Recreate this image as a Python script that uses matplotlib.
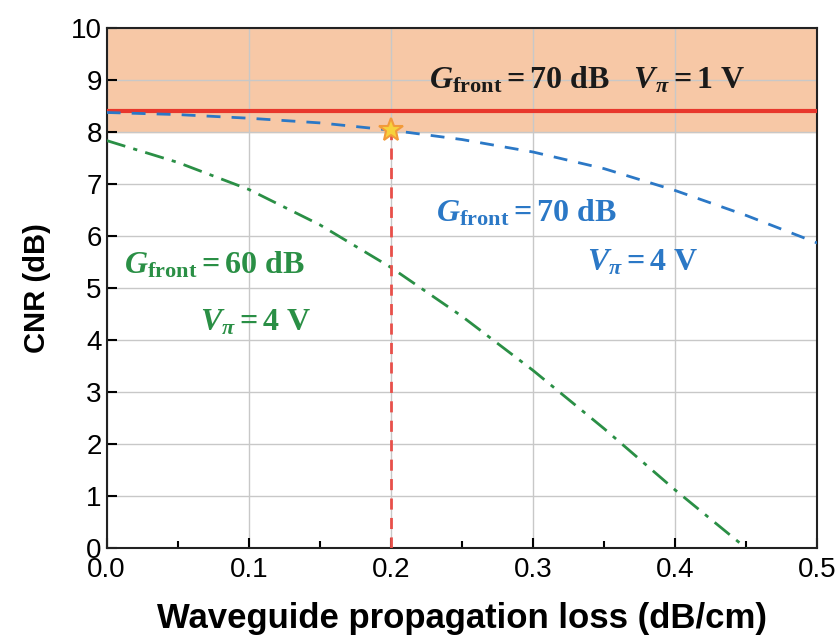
import numpy as np
import matplotlib
matplotlib.use('Agg')
import matplotlib.pyplot as plt

plt.rcParams['font.family'] = ['Liberation Sans', 'DejaVu Sans']
plt.rcParams['mathtext.fontset'] = 'custom'
plt.rcParams['mathtext.rm'] = 'Liberation Serif:bold'
plt.rcParams['mathtext.bf'] = 'Liberation Serif:bold'
plt.rcParams['mathtext.it'] = 'Liberation Serif:bold:italic'

# 数据
loss = [0.0, 0.05, 0.1, 0.15, 0.2, 0.25, 0.3, 0.35, 0.4, 0.45, 0.5]
cnr_70db_4v = [8.38, 8.34, 8.27, 8.18, 8.04, 7.86, 7.62, 7.30, 6.88, 6.40, 5.87]
loss_60 = [0.0, 0.05, 0.1, 0.15, 0.2, 0.25, 0.3, 0.35, 0.4, 0.45]
cnr_60db_4v = [7.84, 7.42, 6.90, 6.22, 5.40, 4.46, 3.42, 2.30, 1.12, 0.0]
cnr_70db_1v = 8.4
band = [8.0, 10.0]
star_pt = (0.2, 8.05)

c_blue = '#2b78c6'
c_green = '#2a8f45'
c_red = '#e8372c'

fig = plt.figure(figsize=(8.4, 6.42), dpi=100)
ax = fig.add_axes([0.127, 0.146, 0.846, 0.81])

# 阴影区和红线
ax.axhspan(band[0], band[1], color='#f7c8a6', zorder=0)
ax.axhline(cnr_70db_1v, color=c_red, lw=3, zorder=3)

# 曲线
ax.plot(loss, cnr_70db_4v, color=c_blue, lw=2, ls=(0, (5, 4)), zorder=3)
ax.plot(loss_60, cnr_60db_4v, color=c_green, lw=2, ls=(0, (7, 3, 1.5, 3)), zorder=3)

# 竖虚线和星
ax.plot([star_pt[0], star_pt[0]], [0, star_pt[1]], color='#e8504a', lw=2,
        ls=(0, (4, 3)), zorder=3)
ax.plot(star_pt[0], star_pt[1], marker='*', ms=18, mfc='#f7d23c', mec='#f29a3a',
        mew=1.5, zorder=5)

# 文字标注
fs = 23
ax.text(0.338, 9.0, r'$G_{\mathrm{front}} = 70\ \mathrm{dB}\quad V_\pi = 1\ \mathrm{V}$',
        color='#1a1a1a', fontsize=fs, ha='center', va='center', zorder=6)
ax.text(0.232, 6.45, r'$G_{\mathrm{front}} = 70\ \mathrm{dB}$',
        color=c_blue, fontsize=fs, ha='left', va='center', zorder=6)
ax.text(0.338, 5.5, r'$V_\pi = 4\ \mathrm{V}$',
        color=c_blue, fontsize=fs, ha='left', va='center', zorder=6)
ax.text(0.012, 5.45, r'$G_{\mathrm{front}} = 60\ \mathrm{dB}$',
        color=c_green, fontsize=fs, ha='left', va='center', zorder=6)
ax.text(0.066, 4.35, r'$V_\pi = 4\ \mathrm{V}$',
        color=c_green, fontsize=fs, ha='left', va='center', zorder=6)

ax.set_xlim(0, 0.5)
ax.set_ylim(0, 10)
ax.set_xticks([0, 0.1, 0.2, 0.3, 0.4, 0.5])
ax.set_xticklabels(['0.0', '0.1', '0.2', '0.3', '0.4', '0.5'])
ax.set_xticks([0.05, 0.15, 0.25, 0.35, 0.45], minor=True)
ax.set_yticks(range(0, 11))
ax.grid(True, which='major', color='#c8c8c8', lw=1, zorder=1)
ax.set_axisbelow(True)
ax.tick_params(which='both', direction='in', labelsize=20, width=1.5,
               top=False, right=False)
ax.tick_params(which='major', length=7)
ax.tick_params(which='minor', length=5)
ax.tick_params(axis='x', pad=6)
for s in ax.spines.values():
    s.set_linewidth(1.5)
    s.set_color('#222222')

ax.set_xlabel('Waveguide propagation loss (dB/cm)', fontsize=25,
              fontweight='bold', labelpad=14)
ax.set_ylabel('CNR (dB)', fontsize=21, fontweight='bold', labelpad=14)

fig.savefig('out.png', dpi=100)
